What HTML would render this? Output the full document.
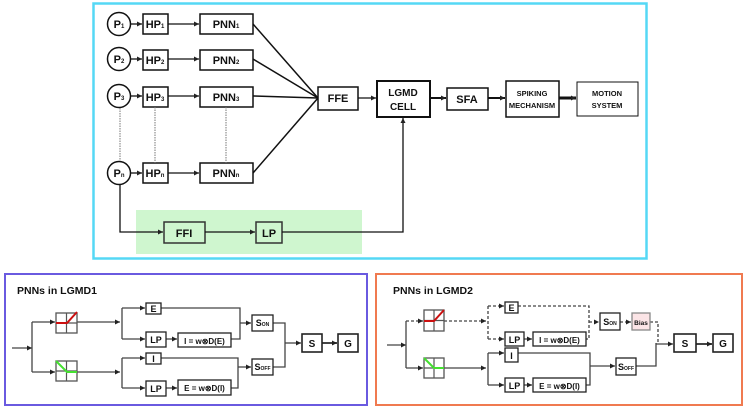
<!DOCTYPE html>
<html><head><meta charset="utf-8"><style>
html,body{margin:0;padding:0;background:#fff;}
svg{display:block;}
text{font-family:"Liberation Sans",sans-serif;font-weight:bold;fill:#111;}
</style></head><body>
<svg width="747" height="410" viewBox="0 0 747 410" xmlns="http://www.w3.org/2000/svg">
<defs>
<marker id="a" markerWidth="6" markerHeight="6" refX="5" refY="3" orient="auto" markerUnits="userSpaceOnUse"><path d="M0,0.5 L5,3 L0,5.5z" fill="#222"/></marker>
</defs>
<!-- top box -->
<rect x="93.5" y="3.5" width="553" height="255" fill="none" stroke="#55d8f5" stroke-width="2.5"/>
<rect x="136" y="210" width="226" height="44" fill="#cff6cf"/>
<g stroke="#111" stroke-width="1.5" fill="#fff">
<circle cx="119" cy="24" r="11.5"/><circle cx="119" cy="59" r="11.5"/><circle cx="119" cy="96" r="11.5"/><circle cx="119" cy="173" r="11.5"/>
<rect x="143" y="14" width="25" height="20"/><rect x="143" y="50" width="25" height="20"/><rect x="143" y="87" width="25" height="20"/><rect x="143" y="163" width="25" height="20"/>
<rect x="200" y="14" width="53" height="20"/><rect x="200" y="50" width="53" height="20"/><rect x="200" y="87" width="53" height="20"/><rect x="200" y="163" width="53" height="20"/>
<rect x="318" y="87" width="40" height="23"/>
<rect x="377" y="81" width="53" height="36" stroke-width="2"/>
<rect x="447" y="88" width="41" height="22"/>
<rect x="506" y="81" width="53" height="36"/>
<rect x="577" y="82" width="61" height="34" stroke-width="1"/>
<rect x="164" y="222" width="41" height="21" fill="none" stroke="#333"/>
<rect x="256" y="222" width="26" height="21" fill="none" stroke="#333"/>
</g>
<g stroke="#111" stroke-width="1.3" fill="none" marker-end="url(#a)">
<line x1="131" y1="24" x2="142" y2="24"/><line x1="131" y1="59" x2="142" y2="59"/><line x1="131" y1="96" x2="142" y2="96"/><line x1="131" y1="173" x2="142" y2="173"/>
<line x1="168" y1="24" x2="199" y2="24"/><line x1="168" y1="59" x2="199" y2="59"/><line x1="168" y1="96" x2="199" y2="96"/><line x1="168" y1="173" x2="199" y2="173"/>
<line x1="358" y1="98" x2="376" y2="98"/>
<line x1="430" y1="98" x2="446" y2="98" stroke-width="2"/>
<line x1="488" y1="98" x2="505" y2="98" stroke-width="2"/>
<line x1="559" y1="98" x2="576" y2="98" stroke-width="3"/>
<polyline points="120,185 120,232 163,232"/>
<line x1="205" y1="232" x2="255" y2="232"/>
<polyline points="282,232 403,232 403,118"/>
</g>
<g stroke="#111" stroke-width="1.5" fill="none">
<line x1="253" y1="24" x2="318" y2="98"/><line x1="253" y1="59" x2="318" y2="98"/><line x1="253" y1="96" x2="318" y2="98"/><line x1="253" y1="173" x2="318" y2="98"/>
</g>
<g stroke="#777" stroke-width="1" stroke-dasharray="1.5,1">
<line x1="120" y1="108" x2="120" y2="161"/><line x1="155" y1="107" x2="155" y2="163"/><line x1="226" y1="107" x2="226" y2="163"/>
</g>
<g font-size="11" text-anchor="middle">
<text x="119" y="28">P<tspan font-size="6">1</tspan></text>
<text x="119" y="63">P<tspan font-size="6">2</tspan></text>
<text x="119" y="100">P<tspan font-size="6">3</tspan></text>
<text x="119" y="177">P<tspan font-size="6">n</tspan></text>
<text x="155" y="28">HP<tspan font-size="6">1</tspan></text>
<text x="155" y="64">HP<tspan font-size="6">2</tspan></text>
<text x="155" y="101">HP<tspan font-size="6">3</tspan></text>
<text x="155" y="177">HP<tspan font-size="6">n</tspan></text>
<text x="226" y="28">PNN<tspan font-size="6">1</tspan></text>
<text x="226" y="64">PNN<tspan font-size="6">2</tspan></text>
<text x="226" y="101">PNN<tspan font-size="6">3</tspan></text>
<text x="226" y="177">PNN<tspan font-size="6">n</tspan></text>
<text x="338" y="102">FFE</text>
<text x="403" y="96" font-size="10">LGMD</text><text x="403" y="110" font-size="10">CELL</text>
<text x="467" y="103">SFA</text>
<text x="532" y="96" font-size="7.5">SPIKING</text><text x="532" y="108" font-size="7.5">MECHANISM</text>
<text x="607" y="96" font-size="7.5">MOTION</text><text x="607" y="108" font-size="7.5">SYSTEM</text>
<text x="184" y="237" fill="#333">FFI</text>
<text x="269" y="237" fill="#333">LP</text>
</g>

<!-- bottom left -->
<rect x="5" y="274" width="362" height="131" fill="none" stroke="#6a5ae0" stroke-width="2"/>
<text x="17" y="294" font-size="10.5">PNNs in LGMD1</text>
<g stroke="#444" stroke-width="1.3" fill="none">
<line x1="12" y1="348" x2="32" y2="348" marker-end="url(#a)"/>
<line x1="32" y1="322" x2="32" y2="372"/>
<line x1="32" y1="322" x2="55" y2="322" marker-end="url(#a)"/>
<line x1="32" y1="372" x2="55" y2="372" marker-end="url(#a)"/>
<line x1="77" y1="322" x2="120" y2="322" marker-end="url(#a)"/>
<line x1="77" y1="372" x2="120" y2="372" marker-end="url(#a)"/>
<line x1="122" y1="308" x2="122" y2="339"/>
<line x1="122" y1="308" x2="145" y2="308" marker-end="url(#a)"/>
<line x1="122" y1="339" x2="145" y2="339" marker-end="url(#a)"/>
<line x1="122" y1="358" x2="122" y2="388"/>
<line x1="122" y1="358" x2="145" y2="358" marker-end="url(#a)"/>
<line x1="122" y1="388" x2="145" y2="388" marker-end="url(#a)"/>
<line x1="166" y1="339" x2="177" y2="339" marker-end="url(#a)"/>
<line x1="166" y1="388" x2="177" y2="388" marker-end="url(#a)"/>
<polyline points="161,308 240,308 240,339 231,339"/>
<polyline points="161,358 238,358 238,388 231,388"/>
<line x1="240" y1="323" x2="251" y2="323" marker-end="url(#a)"/>
<line x1="238" y1="367" x2="251" y2="367" marker-end="url(#a)"/>
<polyline points="273,323 285,323 285,367 273,367"/>
<line x1="285" y1="343" x2="301" y2="343" marker-end="url(#a)"/>
<line x1="322" y1="343" x2="337" y2="343" marker-end="url(#a)" stroke-width="2"/>
</g>
<g stroke="#222" stroke-width="1.3" fill="#fff">
<rect x="56" y="313" width="21" height="20" stroke="#555"/><rect x="56" y="361" width="21" height="20" stroke="#555"/>
<rect x="146" y="303" width="15" height="11"/><rect x="146" y="332" width="20" height="15"/>
<rect x="178" y="333" width="53" height="14"/>
<rect x="146" y="353" width="15" height="11"/><rect x="146" y="381" width="20" height="15"/>
<rect x="178" y="380" width="53" height="15"/>
<rect x="252" y="315" width="21" height="16"/><rect x="252" y="359" width="21" height="16"/>
<rect x="302" y="334" width="20" height="18" stroke-width="1.6"/><rect x="338" y="334" width="20" height="18" stroke-width="1.6"/>
</g>
<g stroke="#555" stroke-width="1.2">
<line x1="66.5" y1="313" x2="66.5" y2="333"/><line x1="56" y1="323" x2="77" y2="323"/>
<line x1="66.5" y1="361" x2="66.5" y2="381"/><line x1="56" y1="371" x2="77" y2="371"/>
</g>
<polyline points="56,323 67,323 77,312" stroke="#cc1010" stroke-width="2" fill="none"/>
<polyline points="56,361 67,372 77,372" stroke="#44e030" stroke-width="2" fill="none"/>
<g font-size="9" text-anchor="middle">
<text x="153.5" y="312">E</text><text x="156" y="343">LP</text>
<text x="204.5" y="344" font-size="8">I = w⊗D(E)</text>
<text x="153.5" y="362">I</text><text x="156" y="392">LP</text>
<text x="204.5" y="391" font-size="8">E = w⊗D(I)</text>
<text x="262.5" y="326">S<tspan font-size="5">ON</tspan></text>
<text x="262.5" y="370">S<tspan font-size="5">OFF</tspan></text>
<text x="312" y="347" font-size="10">S</text><text x="348" y="347" font-size="10">G</text>
</g>

<!-- bottom right -->
<rect x="376" y="274" width="366" height="131" fill="none" stroke="#f07a50" stroke-width="2"/>
<text x="393" y="294" font-size="10.5">PNNs in LGMD2</text>
<g stroke="#444" stroke-width="1.3" fill="none">
<line x1="387" y1="345" x2="406" y2="345" marker-end="url(#a)"/>
<line x1="406" y1="321" x2="406" y2="368"/>
<line x1="406" y1="368" x2="423" y2="368" marker-end="url(#a)"/>
<line x1="444" y1="368" x2="486" y2="368" marker-end="url(#a)"/>
<line x1="488" y1="353" x2="488" y2="385"/>
<line x1="488" y1="353" x2="504" y2="353" marker-end="url(#a)"/>
<line x1="488" y1="385" x2="504" y2="385" marker-end="url(#a)"/>
<line x1="524" y1="385" x2="532" y2="385" marker-end="url(#a)"/>
<polyline points="518,353 590,353 590,385 586,385"/>
<line x1="590" y1="366" x2="615" y2="366" marker-end="url(#a)"/>
<polyline points="636,366 656,366 656,343"/>
<line x1="656" y1="344" x2="673" y2="344" marker-end="url(#a)"/>
<line x1="696" y1="344" x2="712" y2="344" marker-end="url(#a)" stroke-width="2"/>
</g>
<g stroke="#444" stroke-width="1.3" fill="none" stroke-dasharray="3,2">
<line x1="406" y1="321" x2="423" y2="321" marker-end="url(#a)"/>
<line x1="444" y1="321" x2="486" y2="321" marker-end="url(#a)"/>
<line x1="488" y1="306" x2="488" y2="339"/>
<line x1="488" y1="306" x2="504" y2="306" marker-end="url(#a)"/>
<line x1="488" y1="339" x2="504" y2="339" marker-end="url(#a)"/>
<line x1="524" y1="339" x2="532" y2="339" marker-end="url(#a)"/>
<polyline points="518,306 589,306 589,339 586,339"/>
<line x1="589" y1="322" x2="599" y2="322" marker-end="url(#a)"/>
<line x1="620" y1="322" x2="631" y2="322" marker-end="url(#a)"/>
<polyline points="650,322 658,322 658,343"/>
</g>
<g stroke="#222" stroke-width="1.3" fill="#fff">
<rect x="424" y="310" width="20" height="21" stroke="#555"/><rect x="424" y="358" width="20" height="20" stroke="#555"/>
<rect x="505" y="302" width="13" height="11"/><rect x="505" y="332" width="19" height="14"/>
<rect x="533" y="332" width="53" height="14"/>
<rect x="505" y="348" width="13" height="14"/><rect x="505" y="378" width="19" height="14"/>
<rect x="533" y="378" width="53" height="14"/>
<rect x="600" y="313" width="20" height="17"/><rect x="616" y="358" width="20" height="17"/>
<rect x="632" y="313" width="18" height="17" fill="#fbe4e6" stroke="#888"/>
<rect x="674" y="334" width="22" height="18" stroke-width="1.6"/><rect x="713" y="334" width="20" height="18" stroke-width="1.6"/>
</g>
<g stroke="#555" stroke-width="1.2">
<line x1="434" y1="310" x2="434" y2="331"/><line x1="424" y1="320.5" x2="444" y2="320.5"/>
<line x1="434" y1="358" x2="434" y2="378"/><line x1="424" y1="368" x2="444" y2="368"/>
</g>
<polyline points="424,321 434,321 444,310" stroke="#cc1010" stroke-width="2" fill="none"/>
<polyline points="424,358 434,368 444,368" stroke="#44e030" stroke-width="2" fill="none"/>
<g font-size="9" text-anchor="middle">
<text x="511.5" y="311">E</text><text x="514.5" y="343">LP</text>
<text x="559.5" y="343" font-size="8">I = w⊗D(E)</text>
<text x="511.5" y="359">I</text><text x="514.5" y="389">LP</text>
<text x="559.5" y="389" font-size="8">E = w⊗D(I)</text>
<text x="610" y="325">S<tspan font-size="5">ON</tspan></text>
<text x="626" y="370">S<tspan font-size="5">OFF</tspan></text>
<text x="641" y="325" font-size="6.5" fill="#e8203a">Bias</text>
<text x="685" y="347" font-size="10">S</text><text x="723" y="347" font-size="10">G</text>
</g>
</svg>
</body></html>
